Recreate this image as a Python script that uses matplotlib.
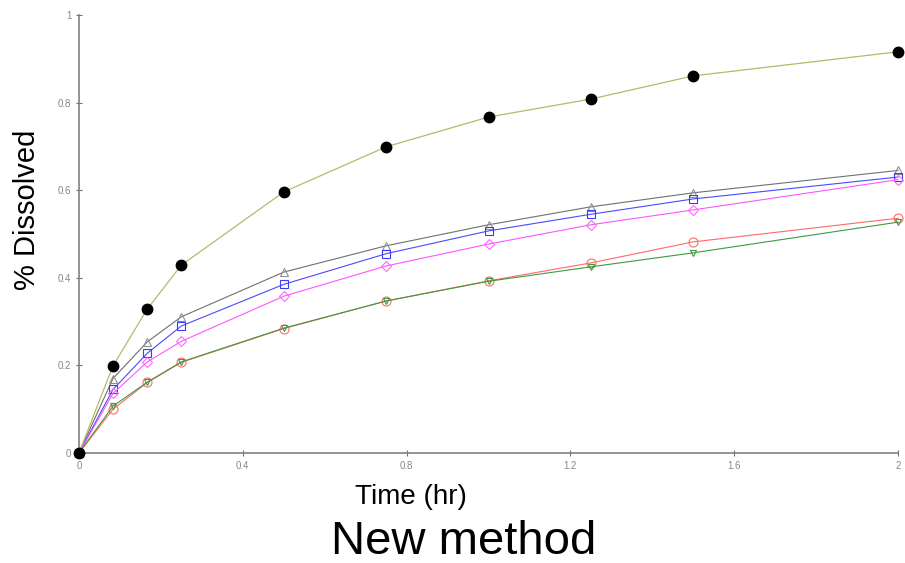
import matplotlib.pyplot as plt
import numpy as np

time_hr = [0, 0.083, 0.167, 0.25, 0.5, 0.75, 1.0, 1.25, 1.5, 2.0]

filled = [0, 0.199, 0.329, 0.429, 0.596, 0.699, 0.767, 0.808, 0.861, 0.916]
tri_up = [0, 0.170, 0.254, 0.311, 0.413, 0.473, 0.521, 0.562, 0.594, 0.645]
squares = [0, 0.145, 0.228, 0.290, 0.385, 0.455, 0.507, 0.545, 0.580, 0.630]
diamonds = [0, 0.136, 0.208, 0.255, 0.358, 0.427, 0.477, 0.521, 0.555, 0.624]
circles = [0, 0.100, 0.161, 0.207, 0.284, 0.347, 0.393, 0.434, 0.482, 0.536]
tri_down = [0, 0.107, 0.162, 0.208, 0.285, 0.347, 0.392, 0.425, 0.457, 0.527]

x_ticks = [0, 0.4, 0.8, 1.2, 1.6, 2]
y_ticks = [0, 0.2, 0.4, 0.6, 0.8, 1]
x_tick_labels = ['0', '0.4', '0.8', '1.2', '1.6', '2']
y_tick_labels = ['0', '0.2', '0.4', '0.6', '0.8', '1']

plt.rcParams['font.family'] = ['Liberation Sans', 'DejaVu Sans']

fig = plt.figure(figsize=(9.05, 5.63), dpi=100)
ax = fig.add_axes([0.0873, 0.1954, 0.905, 0.778])

ax.plot(time_hr, filled, color='#b8b86c', lw=0.9, marker='o', ms=7.5,
        mfc='black', mec='black', zorder=5, clip_on=False)
ax.plot(time_hr, tri_up, color='#707070', lw=0.8, marker='^', ms=6,
        mfc='none', mec='#909090', mew=0.8, clip_on=False)
ax.plot(time_hr, squares, color='#4a4aff', lw=0.8, marker='s', ms=5.5,
        mfc='none', mec='#3a3aff', mew=0.8, clip_on=False)
ax.plot(time_hr, diamonds, color='#ff55ff', lw=0.8, marker='D', ms=5,
        mfc='none', mec='#ff66ff', mew=0.8, clip_on=False)
ax.plot(time_hr, circles, color='#ff6a6a', lw=0.8, marker='o', ms=6.5,
        mfc='none', mec='#ff6a6a', mew=0.8, clip_on=False)
ax.plot(time_hr, tri_down, color='#3f9a3f', lw=0.8, marker='v', ms=5,
        mfc='none', mec='#3f9a3f', mew=0.8, clip_on=False)

ax.set_xlim(0, 2)
ax.set_ylim(0, 1)
ax.set_xticks(x_ticks)
ax.set_yticks(y_ticks)
ax.set_xticklabels(x_tick_labels)
ax.set_yticklabels(y_tick_labels)
ax.tick_params(direction='inout', length=5, width=0.8, color='#707070',
               labelsize=7, labelcolor='#888888', pad=3)
for side in ['top', 'right']:
    ax.spines[side].set_visible(False)
for side in ['left', 'bottom']:
    ax.spines[side].set_color('#808080')
    ax.spines[side].set_linewidth(1.2)

# axis titles placed on the figure to match the original layout
fig.text(0.030, 0.627, '% Dissolved', fontsize=21, rotation=90,
         ha='center', va='center')
fig.text(0.454, 0.118, 'Time (hr)', fontsize=20, ha='center', va='center')
fig.text(0.512, 0.037, 'New method', fontsize=34, ha='center', va='center')

fig.savefig('out.png', dpi=100)
